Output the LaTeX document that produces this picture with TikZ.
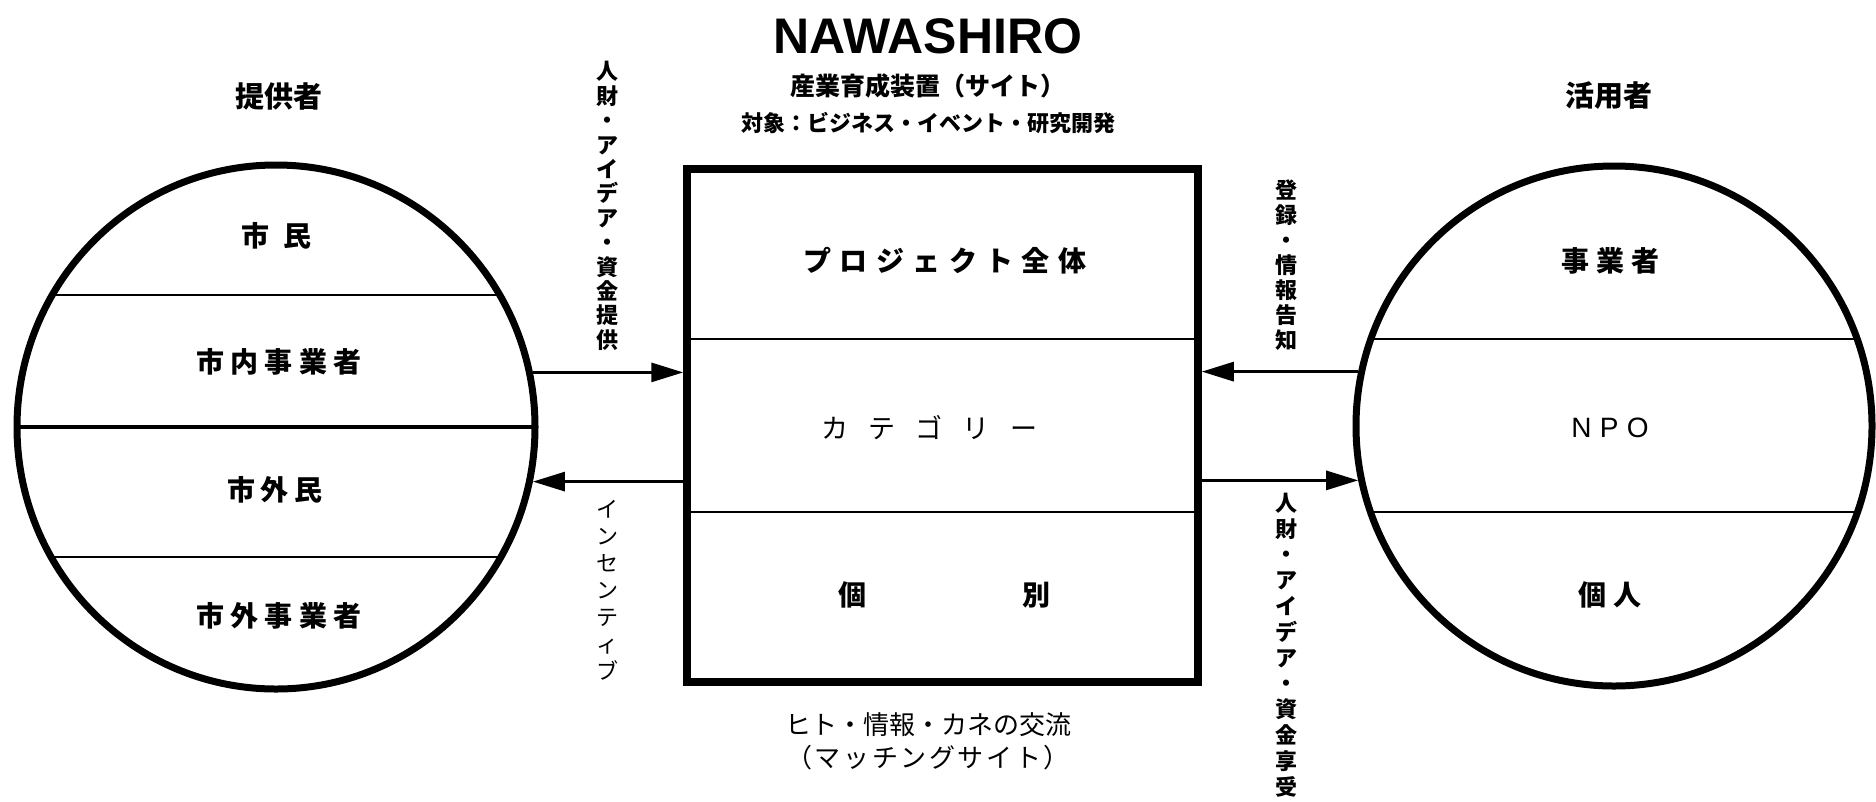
\documentclass[tikz,border=0pt]{standalone}
\usepackage{fontspec}
\setmainfont{Noto Sans CJK JP}
\newfontfamily\titlefont{Liberation Sans}
\usetikzlibrary{shapes.geometric,arrows.meta}

\begin{document}
\begin{tikzpicture}[
  x = 1pt, y = -1pt,
  every node/.style = {inner sep = 0pt},
  group/.style = {draw, ellipse, line width = 7pt, minimum width = 518pt, minimum height = 524pt},
  site/.style = {draw, rectangle, line width = 7.5pt, minimum width = 511pt, minimum height = 513pt},
  arr/.style = {line width = 3pt, -{Triangle[length = 32pt, width = 19pt]}},
  part/.style = {line width = 2pt},
  head/.style = {font = \fontsize{29}{32}\selectfont\bfseries},
  item/.style = {font = \fontsize{28}{30}\selectfont\bfseries\addfontfeature{LetterSpace = #1}},
  item/.default = 22,
  vert/.style = {align = center, font = \fontsize{22}{#1}\selectfont\bfseries}
  ]
  \useasboundingbox (0,0) rectangle (1876,801);
  \node[group] (prov) at (276,427) {};
  \node[group, minimum width = 516pt, minimum height = 520pt] (user) at (1614,426) {};
  \node[site] (site) at (942.5,425.5) {};
  \begin{scope}
    \clip (prov.center) ellipse [x radius = 259pt, y radius = 262pt];
    \draw[part] (prov.west |- 0,295) -- (prov.east |- 0,295);
    \draw[line width = 4pt] (prov.west |- 0,427) -- (prov.east |- 0,427);
    \draw[part] (prov.west |- 0,557) -- (prov.east |- 0,557);
  \end{scope}
  \begin{scope}
    \clip (user.center) ellipse [x radius = 258pt, y radius = 260pt];
    \draw[part, line width = 2.5pt] (user.west |- 0,339) -- (user.east |- 0,339);
    \draw[part, line width = 2.5pt] (user.west |- 0,512) -- (user.east |- 0,512);
  \end{scope}
  \draw[part, line width = 2.5pt] (site.west |- 0,339) -- (site.east |- 0,339);
  \draw[part, line width = 2.5pt] (site.west |- 0,512) -- (site.east |- 0,512);

  \node[font = \titlefont\bfseries\fontsize{50}{54}\selectfont] (title) at (928,36) {NAWASHIRO};
  \node[font = \fontsize{25}{28}\selectfont\bfseries] (sub) at (928,86) {産業育成装置（サイト）};
  \node[font = \fontsize{22}{25}\selectfont\bfseries] (target) at (928,123) {対象：ビジネス・イベント・研究開発};
  \node[head] (provhead) at (279,96) {提供者};
  \node[head] (userhead) at (1609,96) {活用者};

  \node[item = 50] (p1) at (276,236) {市民};
  \node[item] (p2) at (279,362) {市内事業者};
  \node[item = 20] (p3) at (275,490) {市外民};
  \node[item] (p4) at (279,616) {市外事業者};
  \node[item = 25] (u1) at (1610,261) {事業者};
  \node[font = \titlefont\fontsize{28}{30}\selectfont\addfontfeature{LetterSpace = 30}] (u2) at (1610,428) {NPO};
  \node[item = 25] (u3) at (1610,595) {個人};
  \node[item = 30] (s1) at (945,261) {プロジェクト全体};
  \node[font = \fontsize{27}{30}\selectfont\addfontfeature{LetterSpace = 75}] (s2) at (929,428) {カテゴリー};
  \node[item] (s3) at (944,595) {個\hspace{156pt}別};

  \node[font = \fontsize{26}{30}\selectfont] (flow) at (928,725) {ヒト・情報・カネの交流};
  \node[font = \fontsize{26}{30}\selectfont\addfontfeature{LetterSpace = 10}] (match) at (928,758) {（マッチングサイト）};

  \node[vert = 24.4] (give) at (607,206) {人\\財\\・\\ア\\イ\\デ\\ア\\・\\資\\金\\提\\供};
  \node[vert = 27, font = \fontsize{22}{27}\selectfont] (back) at (607,590) {イ\\ン\\セ\\ン\\テ\\ィ\\ブ};
  \node[vert = 25] (reg) at (1286,265) {登\\録\\・\\情\\報\\告\\知};
  \node[vert = 25.8] (take) at (1286,645) {人\\財\\・\\ア\\イ\\デ\\ア\\・\\資\\金\\享\\受};

  \draw[arr] (prov.12) -- (prov.12 -| site.west);
  \draw[arr] (prov.-12.5 -| site.west) -- (prov.-12.5);
  \draw[arr] (user.168) -- (user.168 -| site.east);
  \draw[arr] (user.192.5 -| site.east) -- (user.192.5);
\end{tikzpicture}
\end{document}
